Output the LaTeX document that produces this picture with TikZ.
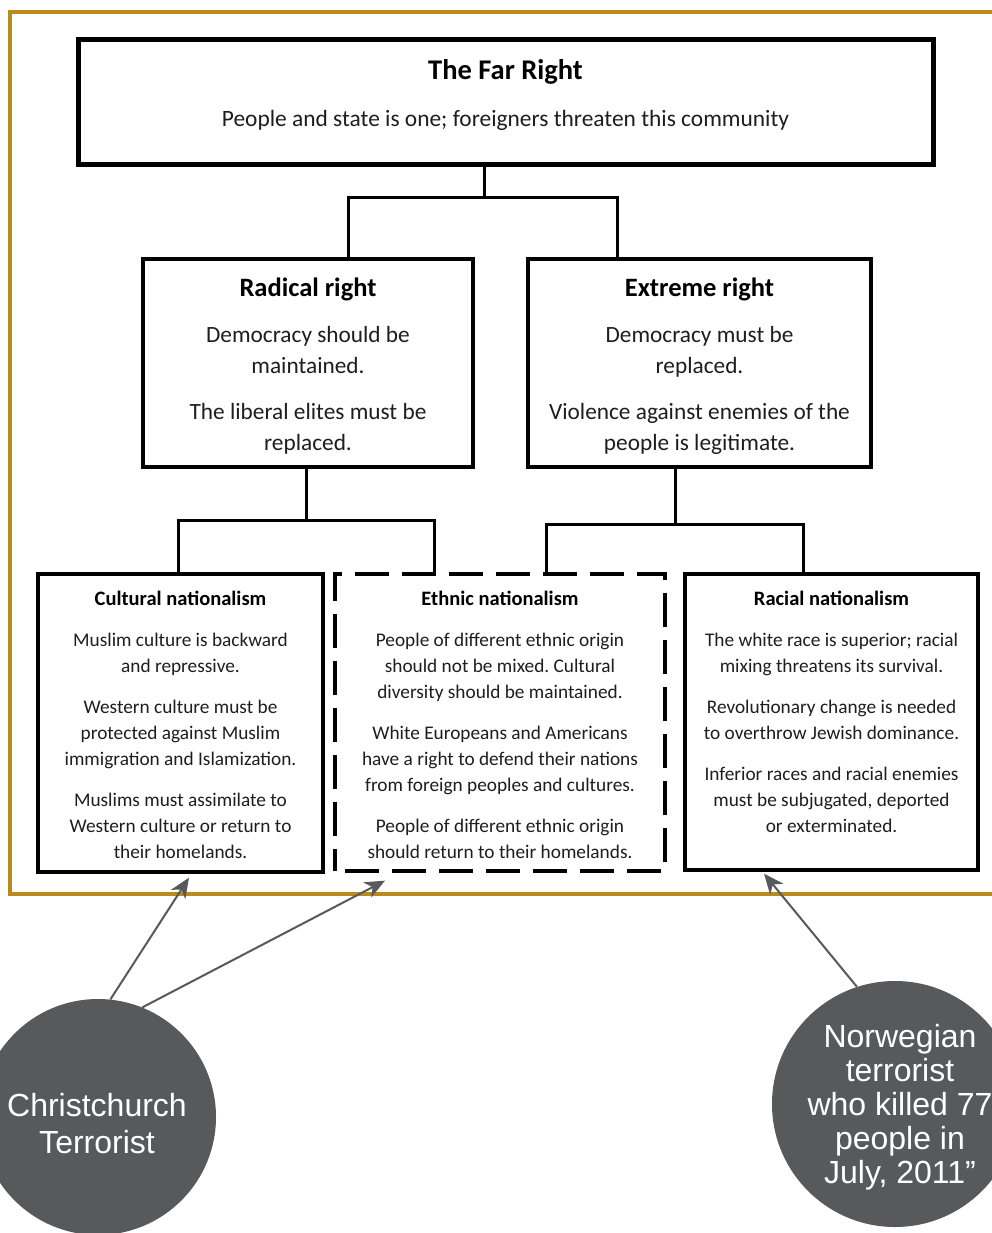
\documentclass[tikz,border=0pt]{standalone}
\usepackage{fontspec}
\setmainfont{Carlito}
\newfontfamily\helv{Liberation Sans}
\usetikzlibrary{arrows.meta,calc}
\definecolor{gold}{HTML}{B98B1E}
\definecolor{disc}{HTML}{58595B}
\definecolor{ink}{HTML}{1E1E1E}
\frenchspacing
\begin{document}
\begin{tikzpicture}[x=1pt,y=-1pt,
  frame/.style={draw=gold, line width=4pt},
  bigbox/.style={draw=black, line width=5pt, inner sep=0pt},
  midbox/.style={draw=black, line width=4pt, inner sep=0pt},
  lowbox/.style={draw=black, line width=3.3pt, inner sep=0pt},
  dashbox/.style={draw=black, line width=3.3pt, dash pattern=on 34pt off 13pt, dash phase=-10pt, inner sep=0pt},
  link/.style={draw=black, line width=3pt},
  ttlA/.style={font=\fontsize{28.5}{33}\selectfont\bfseries, inner sep=0pt, anchor=base, text=black},
  subA/.style={font=\fontsize{23.4}{28}\selectfont, inner sep=0pt, anchor=base, text=ink},
  ttlB/.style={font=\fontsize{26.5}{31}\selectfont\bfseries, inner sep=0pt, anchor=base, text=black},
  bodyB/.style={font=\fontsize{23.3}{31}\selectfont, inner sep=0pt, anchor=north, align=center, text=ink},
  ttlC/.style={font=\fontsize{20.5}{24}\selectfont\bfseries, inner sep=0pt, anchor=base, text=black},
  bodyC/.style={font=\fontsize{19.3}{26}\selectfont, inner sep=0pt, anchor=north, align=center, text=ink},
  arr/.style={draw=disc, line width=2pt, -{Stealth[length=20pt,width=17pt,inset=6pt]}},
  person/.style={circle, fill=disc, inner sep=0pt},
  personT/.style={text=white, inner sep=0pt, align=center}
]
\useasboundingbox (0,0) rectangle (992,1233);
\fill[white] (0,0) rectangle (992,1233);

% gold frame
\draw[frame] (10,12) rectangle (1012,894);

% boxes
\node[bigbox, minimum width=855pt, minimum height=125pt] (far) at (505.5,102.5) {};
\node[midbox, minimum width=330pt, minimum height=208pt] (rad) at (308,363) {};
\node[midbox, minimum width=343pt, minimum height=208pt] (ext) at (699.5,363) {};
\node[lowbox, minimum width=285pt, minimum height=298pt] (cult) at (180.5,723) {};
\node[dashbox, minimum width=330pt, minimum height=297pt] (eth) at (500,722.5) {};
\node[lowbox, minimum width=293pt, minimum height=296pt] (rac) at (831.5,722) {};

% texts
\node[ttlA] (farT) at (505.5,80) {The Far Right};
\node[subA] (farS) at (505.5,127) {People and state is one; foreigners threaten this community};

\node[ttlB] (radT) at (308,296) {Radical right};
\node[bodyB] (radB) at (308,326.5) {Democracy should be\\maintained.\\[15pt]The liberal elites must be\\replaced.};
\node[ttlB] (extT) at (699.5,296) {Extreme right};
\node[bodyB] (extB) at (699.5,326.5) {Democracy must be\\replaced.\\[15pt]Violence against enemies of the\\people is legitimate.};

\node[ttlC] (cultT) at (180.5,605) {Cultural nationalism};
\node[bodyC] (cultB) at (180.5,632.5) {Muslim culture is backward\\and repressive.\\[15pt]Western culture must be\\protected against Muslim\\immigration and Islamization.\\[15pt]Muslims must assimilate to\\Western culture or return to\\their homelands.};
\node[ttlC] (ethT) at (500,605) {Ethnic nationalism};
\node[bodyC] (ethB) at (500,632.5) {People of different ethnic origin\\should not be mixed. Cultural\\diversity should be maintained.\\[15pt]White Europeans and Americans\\have a right to defend their nations\\from foreign peoples and cultures.\\[15pt]People of different ethnic origin\\should return to their homelands.};
\node[ttlC] (racT) at (831.5,605) {Racial nationalism};
\node[bodyC] (racB) at (831.5,632.5) {The white race is superior; racial\\mixing threatens its survival.\\[15pt]Revolutionary change is needed\\to overthrow Jewish dominance.\\[15pt]Inferior races and racial enemies\\must be subjugated, deported\\or exterminated.};

% connectors
\coordinate (j0) at (484,198);
\coordinate (jr) at (348,198);
\coordinate (je) at (617,198);
\draw[link] (j0 |- far.south) -- (j0);
\draw[link] (jr |- rad.north) -- (jr) -- (je) -- (je |- ext.north);

\coordinate (j1) at (306,520);
\coordinate (j1a) at (178,520);
\coordinate (j1b) at (434,520);
\draw[link] (j1 |- rad.south) -- (j1);
\draw[link] (j1a |- cult.north) -- (j1a) -- (j1b) -- (j1b |- eth.north);

\coordinate (j2) at (675,524);
\coordinate (j2a) at (546,524);
\coordinate (j2b) at (803,524);
\draw[link] (j2 |- ext.south) -- (j2);
\draw[link] (j2a |- eth.north) -- (j2a) -- (j2b) -- (j2b |- rac.north);

% people
\node[person, minimum size=236pt] (cc) at (98,1117) {};
\node[personT, font=\helv\fontsize{32}{37}\selectfont] (ccT) at (97,1124) {Christchurch\\Terrorist};
\node[person, minimum size=246pt] (nt) at (895,1104) {};
\node[personT, font=\helv\fontsize{32}{34}\selectfont] (ntT) at (900,1107) {Norwegian\\terrorist\\who killed 77\\people in\\July, 2011”};

% arrows
\coordinate (a1) at ([xshift=8.5pt,yshift=-4pt]cult.south);
\coordinate (a2) at ([xshift=-115pt,yshift=-8pt]eth.south);
\coordinate (a3) at ([xshift=-67.5pt,yshift=-2pt]rac.south);
\draw[arr] (cc.84) -- (a1);
\draw[arr] (cc.68) -- (a2);
\draw[arr] (nt.108) -- (a3);
\end{tikzpicture}
\end{document}
